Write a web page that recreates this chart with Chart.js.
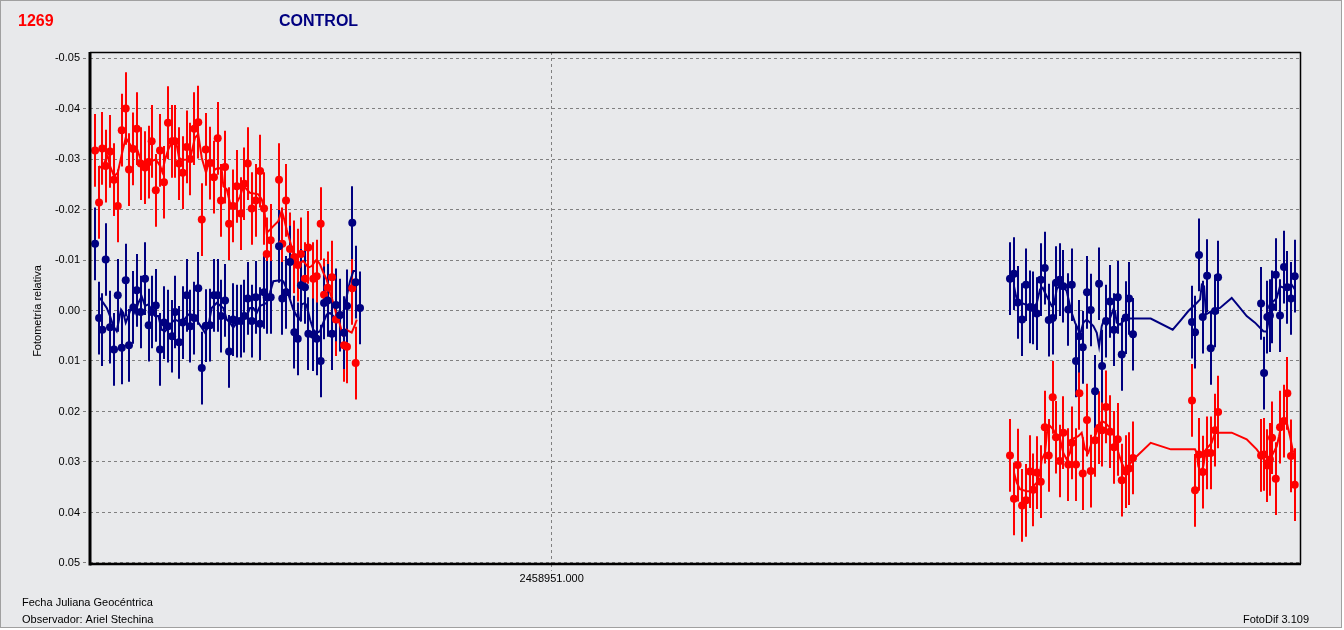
<!DOCTYPE html>
<html><head><meta charset="utf-8">
<script src="https://cdn.jsdelivr.net/npm/chart.js@4.4.1/dist/chart.umd.min.js"></script>
<style>html,body{margin:0;padding:0;background:#fff;overflow:hidden}canvas{display:block}</style>
</head><body>
<canvas id="c" width="1344" height="630"></canvas>
<script>
// ---- DATA ----
const BASE_JD = 2458950;
const xTickValues = [2458951];
const yTickValues = [-0.05,-0.04,-0.03,-0.02,-0.01,0,0.01,0.02,0.03,0.04,0.05];
const errorRed = 0.0072;
const errorNavy = 0.0072;

// fractional day (JD - BASE_JD) of each observation
const timesNight1 = [0.6217,0.6250,0.6277,0.6305,0.6341,0.6374,0.6405,0.6438,0.6471,0.6498,
  0.6534,0.6562,0.6595,0.6631,0.6661,0.6686,0.6720,0.6755,0.6788,0.6821,
  0.6855,0.6879,0.6913,0.6943,0.6976,0.7006,0.7039,0.7072,0.7101,0.7134,
  0.7169,0.7202,0.7233,0.7260,0.7294,0.7327,0.7360,0.7391,0.7425,0.7454,
  0.7482,0.7515,0.7548,0.7584,0.7617,0.7639,0.7672,0.7741,0.7768,0.7799,
  0.7832,0.7868,0.7896,0.7923,0.7956,0.7984,0.8025,0.8053,0.8086,0.8114,
  0.8144,0.8180,0.8213,0.8246,0.8280,0.8304,0.8348,0.8376,0.8412];
const redNight1 = [-0.0317,-0.0214,-0.0321,-0.0286,-0.0315,-0.0259,-0.0207,-0.0357,-0.0400,-0.0279,
  -0.0320,-0.0360,-0.0291,-0.0283,-0.0294,-0.0335,-0.0238,-0.0317,-0.0254,-0.0372,
  -0.0335,-0.0335,-0.0291,-0.0273,-0.0324,-0.0300,-0.0360,-0.0373,-0.0180,-0.0319,
  -0.0292,-0.0264,-0.0341,-0.0218,-0.0284,-0.0172,-0.0207,-0.0246,-0.0192,-0.0251,
  -0.0291,-0.0202,-0.0218,-0.0276,-0.0202,-0.0112,-0.0139,-0.0259,-0.0132,-0.0218,
  -0.0122,-0.0106,-0.0090,-0.0112,-0.0063,-0.0125,-0.0063,-0.0068,-0.0172,-0.0031,
  -0.0045,-0.0066,0.0018,null,0.0069,0.0072,-0.0044,0.0104,null];
const navyNight1 = [-0.0132,0.0015,0.0038,-0.0101,0.0033,0.0077,-0.0030,0.0074,-0.0060,0.0069,
  -0.0006,-0.0040,0.0003,-0.0063,0.0029,0.0003,-0.0010,0.0077,0.0024,0.0031,
  0.0051,0.0003,0.0063,0.0024,-0.0030,0.0031,0.0015,-0.0044,0.0114,0.0030,
  0.0029,-0.0030,-0.0030,0.0011,-0.0020,0.0081,0.0018,0.0021,0.0021,0.0011,
  -0.0024,0.0021,-0.0026,0.0026,-0.0036,-0.0026,-0.0026,-0.0127,-0.0024,-0.0036,
  -0.0096,0.0043,0.0056,-0.0050,-0.0046,0.0046,0.0048,0.0056,0.0100,-0.0015,
  -0.0020,0.0046,-0.0011,0.0009,0.0044,-0.0009,-0.0174,-0.0056,-0.0005];

const timesNight2 = [1.3797,1.3830,1.3861,1.3897,1.3930,1.3963,1.3990,1.4019,1.4052,1.4085,
  1.4118,1.4151,1.4178,1.4209,1.4239,1.4280,1.4309,1.4344,1.4372,1.4400,
  1.4435,1.4466,1.4502,1.4535,1.4560,1.4593,1.4626,1.4659,1.4690,1.4723,
  1.4756,1.4783,1.4816,1.5305,1.5330,1.5363,1.5394,1.5430,1.5460,1.5496,
  1.5521,1.5877,1.5902,1.5929,1.5951,1.5968,1.5999,1.6034,1.6067,1.6095,
  1.6125,1.6156];
const redNight2 = [0.0287,0.0373,0.0306,0.0386,0.0376,0.0319,0.0355,0.0321,0.0339,0.0231,
  0.0287,0.0172,0.0251,0.0298,0.0242,0.0305,0.0262,0.0305,0.0164,0.0323,
  0.0217,0.0318,0.0257,0.0232,0.0237,0.0191,0.0240,0.0271,0.0255,0.0336,
  0.0319,0.0313,0.0292,0.0178,0.0356,0.0285,0.0320,0.0282,0.0282,0.0237,
  0.0201,0.0287,0.0285,0.0307,0.0295,0.0252,0.0333,0.0231,0.0219,0.0164,
  0.0288,0.0345];
const navyNight2 = [-0.0063,-0.0073,-0.0016,0.0018,-0.0051,-0.0007,-0.0005,0.0006,-0.0061,-0.0084,
  0.0019,0.0015,-0.0055,-0.0061,-0.0048,-0.0002,-0.0051,0.0100,0.0051,0.0073,
  -0.0036,-0.0001,0.0160,-0.0053,0.0110,0.0021,-0.0018,0.0038,-0.0026,0.0087,
  0.0014,-0.0024,0.0047,0.0023,0.0043,-0.0110,0.0013,-0.0069,0.0075,0.0001,
  -0.0066,-0.0014,0.0124,0.0013,0.0010,-0.0007,-0.0071,0.0010,-0.0086,-0.0046,
  -0.0024,-0.0068];

// smoothed curves [fractional day, value]
const redTrendNight1 = [[0.6250,-0.0286],[0.6277,-0.0281],[0.6305,-0.0299],[0.6322,-0.0306],[0.6341,-0.0286],[0.6374,-0.0266],[0.6405,-0.0273],[0.6438,-0.0309],[0.6471,-0.0342],[0.6498,-0.0332],[0.6534,-0.0320],[0.6562,-0.0322],[0.6595,-0.0299],[0.6631,-0.0287],[0.6658,-0.0292],[0.6686,-0.0296],[0.6720,-0.0299],[0.6755,-0.0287],[0.6774,-0.0274],[0.6797,-0.0299],[0.6824,-0.0319],[0.6857,-0.0335],[0.6885,-0.0339],[0.6913,-0.0302],[0.6943,-0.0298],[0.6976,-0.0299],[0.7012,-0.0309],[0.7045,-0.0342],[0.7072,-0.0349],[0.7101,-0.0302],[0.7136,-0.0273],[0.7155,-0.0289],[0.7183,-0.0292],[0.7211,-0.0279],[0.7238,-0.0283],[0.7266,-0.0279],[0.7280,-0.0246],[0.7308,-0.0240],[0.7335,-0.0213],[0.7362,-0.0207],[0.7391,-0.0213],[0.7418,-0.0226],[0.7445,-0.0246],[0.7473,-0.0240],[0.7501,-0.0233],[0.7570,-0.0230],[0.7598,-0.0220],[0.7619,-0.0200],[0.7639,-0.0154],[0.7666,-0.0160],[0.7694,-0.0167],[0.7735,-0.0177],[0.7763,-0.0197],[0.7777,-0.0187],[0.7805,-0.0160],[0.7832,-0.0137],[0.7859,-0.0114],[0.7888,-0.0091],[0.7942,-0.0098],[0.7984,-0.0085],[0.8012,-0.0088],[0.8053,-0.0101],[0.8081,-0.0091],[0.8108,-0.0075],[0.8136,-0.0061],[0.8164,-0.0035],[0.8191,-0.0015],[0.8213,0.0005],[0.8241,0.0024],[0.8269,0.0048],[0.8296,0.0038],[0.8343,0.0044],[0.8371,0.0028],[0.8385,0.0018]];
const redTrendNight2 = [[1.3830,0.0321],[1.3853,0.0341],[1.3880,0.0354],[1.3936,0.0358],[1.3963,0.0358],[1.3990,0.0348],[1.4019,0.0341],[1.4046,0.0321],[1.4060,0.0295],[1.4087,0.0282],[1.4106,0.0236],[1.4129,0.0229],[1.4156,0.0236],[1.4184,0.0249],[1.4212,0.0255],[1.4239,0.0282],[1.4267,0.0295],[1.4294,0.0282],[1.4309,0.0255],[1.4363,0.0249],[1.4391,0.0242],[1.4419,0.0275],[1.4446,0.0282],[1.4474,0.0262],[1.4502,0.0249],[1.4529,0.0232],[1.4557,0.0219],[1.4584,0.0222],[1.4612,0.0229],[1.4640,0.0236],[1.4667,0.0255],[1.4695,0.0282],[1.4723,0.0302],[1.4750,0.0315],[1.4777,0.0308],[1.4819,0.0295],[1.4963,0.0262],[1.5129,0.0275],[1.5330,0.0275],[1.5344,0.0282],[1.5357,0.0308],[1.5377,0.0321],[1.5399,0.0308],[1.5421,0.0275],[1.5468,0.0262],[1.5496,0.0242],[1.5523,0.0242],[1.5634,0.0242],[1.5758,0.0255],[1.5841,0.0275],[1.5910,0.0298],[1.5951,0.0295],[1.5979,0.0282],[1.6007,0.0269],[1.6026,0.0249],[1.6048,0.0222],[1.6067,0.0216],[1.6090,0.0222],[1.6117,0.0249],[1.6144,0.0282]];
const navyTrendNight1 = [[0.6258,-0.0025],[0.6285,-0.0015],[0.6314,-0.0005],[0.6341,0.0011],[0.6368,0.0031],[0.6396,0.0041],[0.6432,-0.0002],[0.6451,0.0005],[0.6471,0.0024],[0.6492,0.0011],[0.6521,-0.0009],[0.6548,0.0005],[0.6575,-0.0015],[0.6603,-0.0028],[0.6631,-0.0009],[0.6658,-0.0012],[0.6686,-0.0002],[0.6714,0.0011],[0.6741,0.0011],[0.6769,0.0038],[0.6797,0.0041],[0.6824,0.0034],[0.6852,0.0024],[0.6879,0.0018],[0.6935,0.0024],[0.6990,0.0008],[0.7018,0.0008],[0.7045,0.0011],[0.7072,0.0024],[0.7101,0.0034],[0.7128,0.0044],[0.7155,0.0031],[0.7183,-0.0005],[0.7225,-0.0015],[0.7280,-0.0005],[0.7308,0.0018],[0.7335,0.0024],[0.7362,0.0034],[0.7391,0.0024],[0.7445,0.0008],[0.7473,0.0011],[0.7501,-0.0005],[0.7528,-0.0005],[0.7556,0.0005],[0.7584,-0.0009],[0.7639,-0.0015],[0.7666,-0.0035],[0.7694,-0.0058],[0.7749,-0.0060],[0.7777,-0.0058],[0.7805,-0.0042],[0.7832,-0.0022],[0.7859,-0.0002],[0.7888,0.0011],[0.7915,0.0018],[0.7929,-0.0012],[0.7956,-0.0015],[0.7971,-0.0009],[0.7998,0.0018],[0.8025,0.0038],[0.8053,0.0044],[0.8081,0.0041],[0.8108,0.0024],[0.8136,0.0008],[0.8164,0.0005],[0.8191,0.0011],[0.8219,0.0024],[0.8246,0.0018],[0.8274,0.0005],[0.8302,-0.0028],[0.8329,-0.0058],[0.8357,-0.0078],[0.8385,-0.0078]];
const navyTrendNight2 = [[1.3830,-0.0048],[1.3853,-0.0022],[1.3880,-0.0016],[1.3922,-0.0012],[1.3963,-0.0007],[1.3990,-0.0003],[1.4019,-0.0015],[1.4046,-0.0042],[1.4068,-0.0045],[1.4087,-0.0035],[1.4115,-0.0022],[1.4143,-0.0009],[1.4162,-0.0012],[1.4184,-0.0042],[1.4212,-0.0051],[1.4239,-0.0048],[1.4267,-0.0038],[1.4289,-0.0015],[1.4309,0.0005],[1.4336,0.0024],[1.4363,0.0038],[1.4377,0.0048],[1.4405,0.0024],[1.4433,0.0018],[1.4460,0.0024],[1.4488,0.0031],[1.4516,0.0044],[1.4535,0.0071],[1.4557,0.0031],[1.4576,0.0018],[1.4599,0.0028],[1.4626,0.0015],[1.4653,-0.0002],[1.4667,0.0001],[1.4681,0.0024],[1.4709,0.0028],[1.4736,0.0021],[1.4764,0.0016],[1.4819,0.0016],[1.4963,0.0016],[1.5145,0.0038],[1.5206,0.0021],[1.5275,0.0001],[1.5344,-0.0015],[1.5372,-0.0022],[1.5386,-0.0051],[1.5405,-0.0048],[1.5421,0.0008],[1.5440,0.0005],[1.5482,-0.0001],[1.5537,-0.0005],[1.5634,-0.0025],[1.5689,-0.0009],[1.5758,0.0011],[1.5827,0.0024],[1.5896,0.0041],[1.5924,0.0042],[1.5946,0.0011],[1.5966,-0.0015],[1.6007,-0.0025],[1.6034,-0.0048],[1.6067,-0.0045],[1.6095,-0.0042],[1.6131,-0.0051],[1.6156,-0.0042]];

// ---- BUILD ----
const RED = '#ff0000', NAVY = '#000080';
const FONT = '"Liberation Sans", Arial, sans-serif';
function toPoints(ts, vs){ return ts.map((t,i)=>({x: BASE_JD + t, y: vs[i]})).filter(p=>p.y!==null); }
function trendPoints(a, b){
  return [...a.map(p=>({x:BASE_JD+p[0], y:p[1]})), {x: BASE_JD+1.0, y:null}, ...b.map(p=>({x:BASE_JD+p[0], y:p[1]}))];
}
const redPts = [...toPoints(timesNight1, redNight1), ...toPoints(timesNight2, redNight2)];
const navyPts = [...toPoints(timesNight1, navyNight1), ...toPoints(timesNight2, navyNight2)];

const errorBars = {
  id: 'errorBars',
  beforeDatasetsDraw(chart){
    const ctx = chart.ctx, xs = chart.scales.x, ys = chart.scales.y;
    ctx.save();
    const drawSet = (pts, err, col) => {
      ctx.strokeStyle = col; ctx.lineWidth = 2;
      ctx.beginPath();
      pts.forEach(p=>{
        const px = Math.round(xs.getPixelForValue(p.x));
        ctx.moveTo(px, ys.getPixelForValue(p.y - err));
        ctx.lineTo(px, ys.getPixelForValue(p.y + err));
      });
      ctx.stroke();
    };
    drawSet(redPts, errorRed, RED);
    drawSet(navyPts, errorNavy, NAVY);
    ctx.restore();
  }
};

const decor = {
  id: 'decor',
  beforeDraw(chart){
    const ctx = chart.ctx;
    ctx.save();
    ctx.fillStyle = '#ffffff'; ctx.fillRect(0,0,1344,630);
    ctx.fillStyle = '#e8e9eb'; ctx.fillRect(0,0,1342,628);
    ctx.strokeStyle = '#a0a0a0'; ctx.lineWidth = 1;
    ctx.strokeRect(0.5,0.5,1341,627);
    ctx.restore();
  },
  afterDraw(chart){
    const ctx = chart.ctx, a = chart.chartArea;
    ctx.save();
    ctx.strokeStyle = '#000'; 
    ctx.lineWidth = 1.5;
    ctx.beginPath(); ctx.moveTo(a.left, a.top+0.5); ctx.lineTo(a.right, a.top+0.5); ctx.stroke();
    ctx.beginPath(); ctx.moveTo(a.right-0.5, a.top); ctx.lineTo(a.right-0.5, a.bottom); ctx.stroke();
    ctx.lineWidth = 3;
    ctx.beginPath(); ctx.moveTo(a.left, a.top); ctx.lineTo(a.left, a.bottom+1.5); ctx.stroke();
    ctx.lineWidth = 2.5;
    ctx.beginPath(); ctx.moveTo(a.left, a.bottom); ctx.lineTo(a.right, a.bottom); ctx.stroke();

    ctx.textBaseline = 'alphabetic';
    ctx.font = 'bold 16px ' + FONT;
    ctx.fillStyle = RED; ctx.textAlign = 'left';
    ctx.fillText('1269', 18, 26);
    ctx.fillStyle = NAVY;
    ctx.fillText('CONTROL', 279, 26);

    ctx.font = '11px ' + FONT; ctx.fillStyle = '#000';
    ctx.fillText('Fecha Juliana Geocéntrica', 22, 606);
    ctx.fillText('Observador: Ariel Stechina', 22, 623);
    ctx.textAlign = 'right';
    ctx.fillText('FotoDif 3.109', 1309, 623);

    ctx.translate(41, 311); ctx.rotate(-Math.PI/2);
    ctx.textAlign = 'center';
    ctx.fillText('Fotometría relativa', 0, 0);
    ctx.restore();
  }
};

new Chart(document.getElementById('c'), {
  type: 'scatter',
  data: {
    datasets: [
      { label:'control', data: navyPts, backgroundColor: NAVY, borderColor: NAVY, pointRadius: 4, pointBorderWidth: 0, showLine:false, order: 1 },
      { label:'variable', data: redPts, backgroundColor: RED, borderColor: RED, pointRadius: 4, pointBorderWidth: 0, showLine:false, order: 2 },
      { label:'control trend', data: trendPoints(navyTrendNight1, navyTrendNight2), borderColor: NAVY, borderWidth: 2, pointRadius: 0, showLine: true, spanGaps: false, order: 3 },
      { label:'variable trend', data: trendPoints(redTrendNight1, redTrendNight2), borderColor: RED, borderWidth: 2, pointRadius: 0, showLine: true, spanGaps: false, order: 4 }
    ]
  },
  options: {
    responsive: false, animation: false, devicePixelRatio: 1,
    layout: { padding: { left: 0, right: 43, top: 52, bottom: 46 } },
    plugins: { legend: { display: false }, tooltip: { enabled: false } },
    scales: {
      x: {
        type: 'linear', min: BASE_JD + 0.6175, max: BASE_JD + 1.6208,
        afterBuildTicks: s => { s.ticks = xTickValues.map(v => ({ value: v })); },
        afterFit: s => { s.height = 20; },
        grid: { color: '#808080', lineWidth: 1, tickLength: 7, tickBorderDash: [3,3], tickColor: '#808080' },
        border: { display: false, dash: [3,3] },
        ticks: { color: '#000', font: { family: FONT, size: 11 }, padding: 1, maxRotation: 0,
          callback: v => Number(v).toFixed(3) }
      },
      y: {
        type: 'linear', reverse: true, min: -0.05119, max: 0.0502,
        afterBuildTicks: s => { s.ticks = yTickValues.map(v => ({ value: v })); },
        afterFit: s => { s.width = 90; },
        grid: { color: '#808080', lineWidth: 1, tickLength: 7, tickBorderDash: [3,3], tickColor: '#808080' },
        border: { display: false, dash: [3,3] },
        ticks: { color: '#000', font: { family: FONT, size: 11 }, padding: 3,
          callback: v => (Math.abs(v) < 1e-9 ? '0.00' : Number(v).toFixed(2)) }
      }
    }
  },
  plugins: [decor, errorBars]
});
</script>
</body></html>
